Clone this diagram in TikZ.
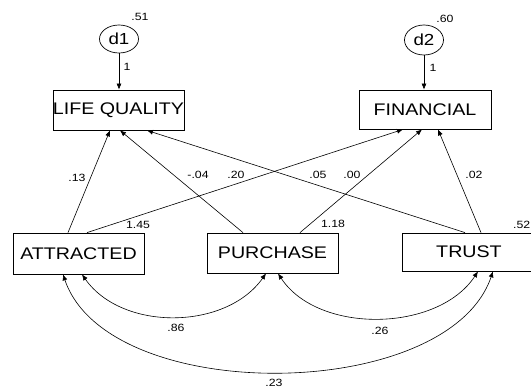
\documentclass[tikz,border=0pt]{standalone}
\usepackage{fontspec}
\setmainfont{Liberation Sans}[FakeStretch=1.17]
\usetikzlibrary{arrows.meta,shapes.geometric}
\begin{document}
\begin{tikzpicture}[x=1pt,y=-1pt,
  box/.style={draw,line width=0.8pt,inner sep=0pt,font=\fontsize{16.8}{18}\selectfont},
  err/.style={draw,ellipse,line width=0.7pt,inner sep=0pt,font=\fontsize{16}{18}\selectfont},
  lbl/.style={inner sep=0pt,font=\fontsize{10.5}{12}\selectfont},
  conn/.style={line width=0.6pt,-{Latex[length=6pt,width=5pt]}},
  cov/.style={line width=0.6pt,{Latex[length=6pt,width=5pt]}-{Latex[length=6pt,width=5pt]}}]
\useasboundingbox (0,0) rectangle (531,389);
% boxes
\node[box,minimum width=131pt,minimum height=40pt] (lq) at (118.5,110) {LIFE QUALITY};
\node[box,minimum width=132pt,minimum height=39pt] (fin) at (425,109.5) {FINANCIAL};
\node[box,minimum width=131pt,minimum height=41pt] (att) at (78.5,253.5) {ATTRACTED};
\node[box,minimum width=131pt,minimum height=40pt] (pur) at (272.5,253) {PURCHASE};
\node[box,minimum width=134pt,minimum height=38pt] (tru) at (469,252) {TRUST};
% errors
\node[err,minimum width=39pt,minimum height=28pt] (d1) at (119,39) {d1};
\node[err,minimum width=39pt,minimum height=30pt] (d2) at (424,40) {d2};
\draw[conn] (d1) -- (d1 |- lq.north);
\draw[conn] (d2) -- (d2 |- fin.north);
% paths
\draw[conn] ([xshift=-10.5pt]att.north) -- ([xshift=-8.5pt]lq.south);
\draw[conn] ([xshift=8.5pt]att.north) -- ([xshift=-22pt]fin.south);
\draw[conn] ([xshift=-29.5pt]pur.north) -- ([xshift=1.5pt]lq.south);
\draw[conn] ([xshift=27.5pt]pur.north) -- ([xshift=-3pt]fin.south);
\draw[conn] ([xshift=-4pt]tru.north) -- ([xshift=28.5pt]lq.south);
\draw[conn] ([xshift=12pt]tru.north) -- ([xshift=13pt]fin.south);
% covariances
\draw[cov] ([xshift=3.5pt]att.south) .. controls +(40,57) and +(-40,57) .. ([xshift=-6.5pt]pur.south);
\draw[cov] ([xshift=5.5pt]pur.south) .. controls +(40,61) and +(-40,61) .. ([xshift=9pt]tru.south);
\draw[cov] ([xshift=-15.5pt]att.south) .. controls +(45,132) and +(-45,132) .. ([xshift=24pt]tru.south);
% labels
\node[lbl] (l51) at (140,17) {.51};
\node[lbl] (l60) at (445,19) {.60};
\node[lbl] (l1a) at (127,67) {1};
\node[lbl] (l1b) at (433,68) {1};
\node[lbl] (l13) at (77,178) {.13};
\node[lbl] (l04) at (198,175) {-.04};
\node[lbl] (l20) at (236,175) {.20};
\node[lbl] (l05) at (318,175) {.05};
\node[lbl] (l00) at (352,175) {.00};
\node[lbl] (l02) at (474,175) {.02};
\node[lbl] (l145) at (138,225) {1.45};
\node[lbl] (l118) at (333,224) {1.18};
\node[lbl,anchor=west] (l52) at (513,225) {.52};
\node[lbl] (l86) at (176,328) {.86};
\node[lbl] (l26) at (380,331) {.26};
\node[lbl] (l23) at (274,383) {.23};
\end{tikzpicture}
\end{document}
